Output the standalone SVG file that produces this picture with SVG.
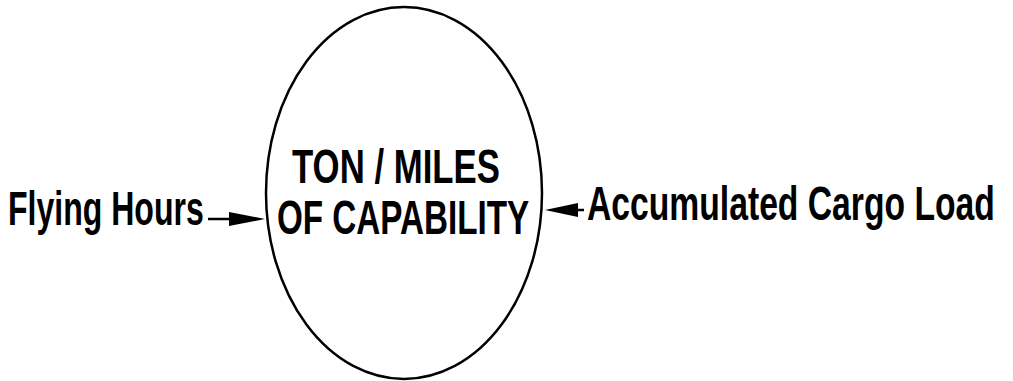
<svg xmlns="http://www.w3.org/2000/svg" width="1013" height="381" viewBox="0 0 1013 381">
<style>
.t{font-family:"Liberation Sans",Arial,sans-serif;font-size:48px;font-weight:bold;fill:#000}
.e{fill:#fff;stroke:#000;stroke-width:2.5}
.c{stroke:#000;stroke-width:2.5;fill:none}
</style>
<rect width="1013" height="381" fill="#fff"/>
<g id="node-center">
<ellipse class="e" cx="404" cy="193" rx="138" ry="186"/>
<text class="t" transform="translate(292,183) scale(0.722,1)" x="0" y="0" textLength="288" lengthAdjust="spacingAndGlyphs">TON / MILES</text>
<text class="t" transform="translate(277,234) scale(0.685,1)" x="0" y="0" textLength="368" lengthAdjust="spacingAndGlyphs">OF CAPABILITY</text>
</g>
<g id="node-flying">
<text class="t" transform="translate(8,225) scale(0.668,1)" x="0" y="0" textLength="293" lengthAdjust="spacingAndGlyphs">Flying Hours</text>
</g>
<g id="node-cargo">
<text class="t" transform="translate(587,220) scale(0.702,1)" x="0" y="0" textLength="581" lengthAdjust="spacingAndGlyphs">Accumulated Cargo Load</text>
</g>
<g id="connectors">
<line class="c" x1="208" y1="219" x2="232" y2="219"/>
<path d="M229,212 L265,219 L229,226 z" fill="#000"/>
<line class="c" x1="584" y1="210" x2="575" y2="210"/>
<path d="M578,203 L545,210 L578,217 z" fill="#000"/>
</g>
</svg>
